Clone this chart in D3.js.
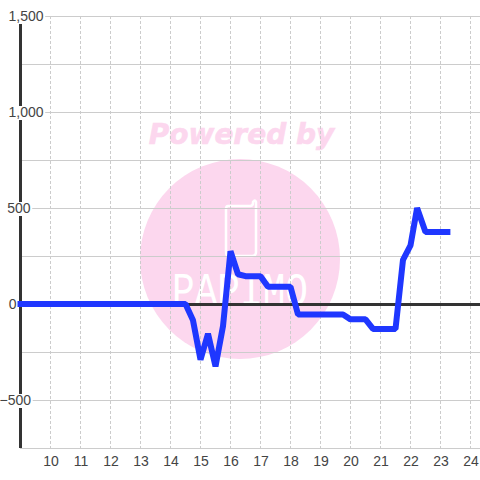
<!DOCTYPE html>
<html><head><meta charset="utf-8">
<script src="https://cdn.jsdelivr.net/npm/d3@7"></script>
<style>html,body{margin:0;background:#fff}svg{display:block}</style>
</head><body><svg id="c" width="480" height="480"></svg>
<script>
const hours=[8.9,9.25,9.5,9.75,10,10.25,10.5,10.75,11,11.25,11.5,11.75,12,12.25,12.5,12.75,13,13.25,13.5,13.75,14,14.25,14.5,14.75,15,15.25,15.5,15.75,16,16.25,16.5,16.75,17,17.25,17.5,17.75,18,18.25,18.5,18.75,19,19.25,19.5,19.75,20,20.25,20.5,20.75,21,21.25,21.5,21.75,22,22.22,22.5,22.75,23,23.33];
const values=[0,0,0,0,0,0,0,0,0,0,0,0,0,0,0,0,0,0,0,0,0,0,0,-85,-290,-155,-325,-115,275,155,145,145,145,90,90,90,90,-55,-55,-55,-55,-55,-55,-55,-80,-80,-80,-130,-130,-130,-130,230,305,500,375,375,375,375];
const xTicks=[10,11,12,13,14,15,16,17,18,19,20,21,22,23,24];
const yGrid=[-750,-500,-250,0,250,500,750,1000,1250,1500];
const yLabels=[-500,0,500,1000,1500];
const yLabelRight=[31,16.5,30.5,43.5,43.5];
const watermarkTop="Powered by";
const watermarkBrand="PAPIMO";

const svg=d3.select("#c");
const x=d3.scaleLinear().domain([9,24]).range([20.5,470.5]);
const y=d3.scaleLinear().domain([-750,1500]).range([448,16]);
const pink="#fcd7ee";

// watermark
const wm=svg.append("g");
wm.append("circle").attr("cx",240).attr("cy",259).attr("r",100).attr("fill",pink);
wm.append("text").attr("x",241.5).attr("y",144).attr("text-anchor","middle")
  .attr("font-family","DejaVu Sans").attr("font-weight","bold").attr("font-style","italic")
  .attr("font-size",28).attr("stroke",pink).attr("stroke-width",.6).attr("fill",pink).text(watermarkTop);
wm.append("path").attr("d","M228 206H250Q253 206 253 203V202Q255 199 256 202V252Q256 256 252 256H229Q226 256 226 252V209Q226 206 228 206Z")
  .attr("fill","none").attr("stroke","#fff").attr("stroke-width",2.5);
wm.append("text").attr("x",172).attr("y",305)
  .attr("font-family","Liberation Mono").attr("font-size",46).attr("textLength",136).attr("lengthAdjust","spacingAndGlyphs")
  .attr("fill","#fff").text(watermarkBrand);

// grid
svg.append("g").selectAll("line").data(yGrid).join("line")
  .attr("x1",20).attr("x2",480).attr("y1",d=>y(d)+.5).attr("y2",d=>y(d)+.5)
  .attr("stroke","#ccc").attr("stroke-width",1);
svg.append("g").selectAll("line").data(xTicks).join("line")
  .attr("x1",d=>x(d)).attr("x2",d=>x(d)).attr("y1",16).attr("y2",448)
  .attr("stroke","#ccc").attr("stroke-width",1).attr("stroke-dasharray","3,2");

// axes
svg.append("line").attr("x1",20.5).attr("x2",20.5).attr("y1",16).attr("y2",448).attr("stroke","#333").attr("stroke-width",3);
svg.append("line").attr("x1",20).attr("x2",480).attr("y1",y(0)+.5).attr("y2",y(0)+.5).attr("stroke","#333").attr("stroke-width",3);

// labels with white backing (0 sits left of the axis)
const fmt=d3.format(",");
const labs=svg.append("g").attr("font-family","Liberation Sans").attr("font-size",14).attr("fill","#444");
yLabels.forEach((v,i)=>{
  const t=labs.append("text").attr("x",yLabelRight[i]).attr("y",y(v)+5.3).attr("text-anchor","end").text(fmt(v));
  if(v!==0){
    const b=t.node().getBBox();
    labs.insert("rect","text").attr("x",b.x-1).attr("y",y(v)-6).attr("width",b.width+2.5).attr("height",14).attr("fill","#fff");
  }
});
labs.selectAll(".xt").data(xTicks).join("text").attr("class","xt")
  .attr("x",d=>x(d)+.5).attr("y",466).attr("text-anchor","middle").text(d=>d);

// series
const line=d3.line().x((d,i)=>x(hours[i])).y(d=>y(d));
svg.append("path").attr("d",line(values)).attr("fill","none").attr("stroke","#1f37ff")
  .attr("stroke-width",6).attr("stroke-linejoin","bevel");
</script></body></html>
